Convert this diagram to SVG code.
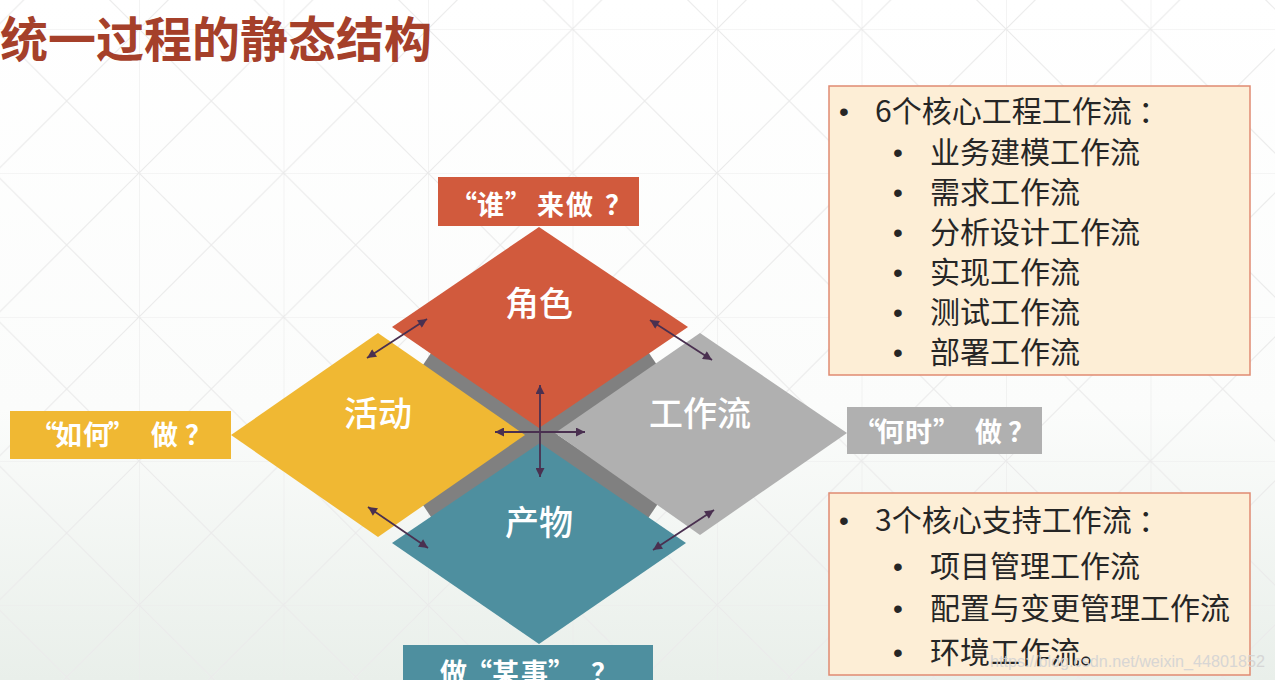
<svg xmlns="http://www.w3.org/2000/svg" width="1275" height="680" viewBox="0 0 1275 680">
<defs>
<linearGradient id="bg" x1="0" y1="0" x2="0" y2="1">
<stop offset="0" stop-color="#ffffff"/>
<stop offset="0.6" stop-color="#fbfcfb"/>
<stop offset="1" stop-color="#e9efea"/>
</linearGradient>
<pattern id="grid" patternUnits="userSpaceOnUse" x="-5.5" y="29" width="144.5" height="144">
<path d="M0,0 H144.5 M0,0 V144 M0,0 L144.5,144 M144.5,0 L0,144" fill="none" stroke="#ebebeb" stroke-width="1.2"/>
</pattern>
<marker id="ah" viewBox="0 0 10 10" refX="10" refY="5" markerWidth="11" markerHeight="9" markerUnits="userSpaceOnUse" orient="auto-start-reverse">
<path d="M0,0 L10,5 L0,10 z" fill="#4a3050"/>
</marker>
<style>
.title{font-family:"Noto Sans CJK SC","Noto Sans",sans-serif;font-weight:bold;font-size:48px;fill:#a5402a}
.dl{font-family:"Noto Sans CJK SC",sans-serif;font-weight:500;font-size:34px;fill:#ffffff;text-anchor:middle}
.lb{font-family:"Noto Sans CJK SC",sans-serif;font-weight:bold;font-size:27px;fill:#ffffff}
.bt{font-family:"Noto Sans CJK SC","Noto Sans",sans-serif;font-size:30px;fill:#262626}
.bu{font-family:"Liberation Sans",Arial,sans-serif;font-size:28px;fill:#262626}
.box{fill:#fdeed6;stroke:#e08a72;stroke-width:1.5}
.arr{stroke:#4a3050;stroke-width:1.8;fill:none}
.wm{font-family:"Liberation Sans",Arial,sans-serif;font-size:17px;fill:#d4d4d4;opacity:0.9}
</style>
</defs>
<rect width="1275" height="680" fill="url(#bg)"/>
<rect width="1275" height="680" fill="url(#grid)"/>

<g id="title"><text class="title" x="0" y="57">统一过程的静态结构</text></g>

<g id="gray-bands" stroke="#808080" stroke-width="20">
<line x1="427" y1="359" x2="653" y2="511"/>
<line x1="653" y1="359" x2="427" y2="511"/>
</g>

<g id="node-role">
<polygon points="539,227 688,327 539,428 392,327" fill="#d15a3d"/>
<text class="dl" x="539" y="316">角色</text>
</g>
<g id="node-activity">
<polygon points="378,333 525,435 378,537 231,435" fill="#f0b833"/>
<text class="dl" x="378" y="426">活动</text>
</g>
<g id="node-workflow">
<polygon points="700,333 847,433 700,535 555,433" fill="#b0b0b0"/>
<text class="dl" x="700" y="426">工作流</text>
</g>
<g id="node-artifact">
<polygon points="540,443 686,543 539,644 392,543" fill="#4e8f9f"/>
<text class="dl" x="539" y="535">产物</text>
</g>

<g id="label-who">
<rect x="438" y="177" width="201" height="49" fill="#d15a3d"/>
<text class="lb" x="450 477 505 537 566 605" y="215">“谁”来做？</text>
</g>
<g id="label-how">
<rect x="10" y="411" width="221" height="48" fill="#f0b833"/>
<text class="lb" x="30 55 83 108 151 185" y="445">“如何”做？</text>
</g>
<g id="label-when">
<rect x="847" y="407" width="195" height="47" fill="#b0b0b0"/>
<text class="lb" x="853 877 905 933 975 1008" y="442">“何时”做？</text>
</g>
<g id="label-what">
<rect x="403" y="645" width="250" height="40" fill="#4e8f9f"/>
<text class="lb" x="440 465 492 521 548 591" y="683">做“某事”？</text>
</g>

<g id="connectors">
<line class="arr" x1="367" y1="358" x2="427" y2="319" marker-start="url(#ah)" marker-end="url(#ah)"/>
<line class="arr" x1="650" y1="320" x2="712" y2="360" marker-start="url(#ah)" marker-end="url(#ah)"/>
<line class="arr" x1="368" y1="507" x2="428" y2="548" marker-start="url(#ah)" marker-end="url(#ah)"/>
<line class="arr" x1="653" y1="550" x2="714" y2="510" marker-start="url(#ah)" marker-end="url(#ah)"/>
<line class="arr" x1="540" y1="385" x2="540" y2="477" marker-start="url(#ah)" marker-end="url(#ah)"/>
<line class="arr" x1="495" y1="432" x2="585" y2="432" marker-start="url(#ah)" marker-end="url(#ah)"/>
</g>

<g id="box-core">
<rect class="box" x="829" y="86" width="421" height="289"/>
<text class="bu" x="839" y="121">•</text><text class="bt" x="875" y="122">6个核心工程工作流 ：</text>
<text class="bu" x="893" y="162">•</text><text class="bt" x="930" y="163">业务建模工作流</text>
<text class="bu" x="893" y="202">•</text><text class="bt" x="930" y="203">需求工作流</text>
<text class="bu" x="893" y="242">•</text><text class="bt" x="930" y="243">分析设计工作流</text>
<text class="bu" x="893" y="282">•</text><text class="bt" x="930" y="283">实现工作流</text>
<text class="bu" x="893" y="322">•</text><text class="bt" x="930" y="323">测试工作流</text>
<text class="bu" x="893" y="362">•</text><text class="bt" x="930" y="363">部署工作流</text>
</g>

<g id="box-support">
<rect class="box" x="829" y="493" width="421" height="182"/>
<text class="bu" x="839" y="530">•</text><text class="bt" x="875" y="531">3个核心支持工作流 ：</text>
<text class="bu" x="893" y="576">•</text><text class="bt" x="930" y="577">项目管理工作流</text>
<text class="bu" x="893" y="618">•</text><text class="bt" x="930" y="619">配置与变更管理工作流</text>
<text class="bu" x="893" y="662">•</text><text class="bt" x="930" y="663">环境工作流。</text>
</g>

<g id="watermark"><text class="wm" x="990" y="667" textLength="275" lengthAdjust="spacingAndGlyphs">https://blog.csdn.net/weixin_44801852</text></g>
</svg>
